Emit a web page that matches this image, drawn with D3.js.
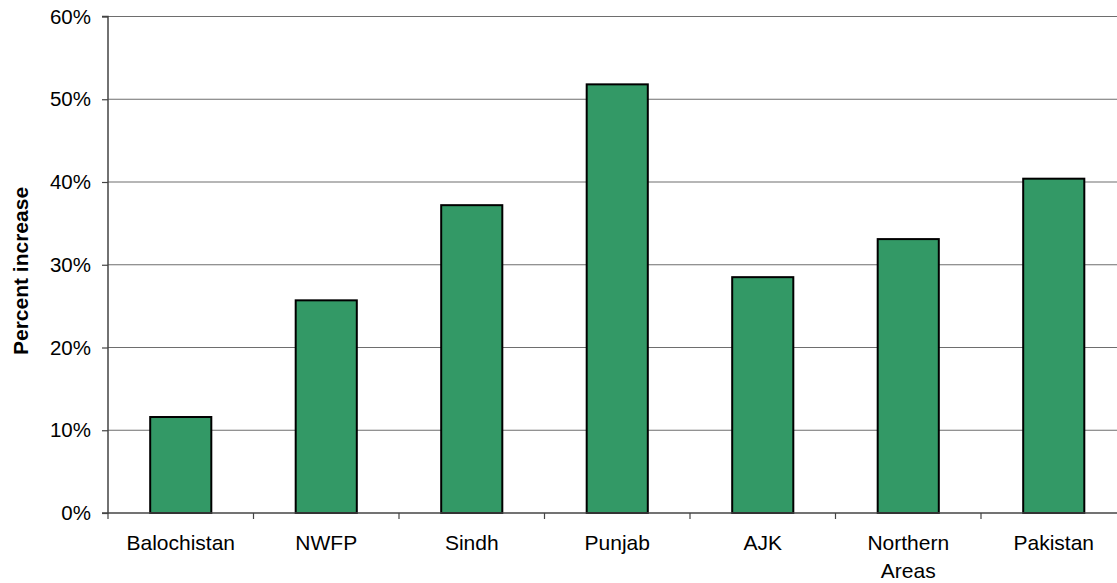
<!DOCTYPE html>
<html><head><meta charset="utf-8">
<script src="https://cdn.jsdelivr.net/npm/d3@7"></script>
<style>body{margin:0;background:#fff}svg{display:block}text{font-family:"Liberation Sans",Arial,sans-serif;fill:#000}</style>
</head><body><svg id="c" width="1117" height="583"></svg>
<script>
const categories = ["Balochistan","NWFP","Sindh","Punjab","AJK","Northern Areas","Pakistan"];
const values = [11.6, 25.7, 37.2, 51.8, 28.5, 33.1, 40.4];
const yTicks = [0,10,20,30,40,50,60];

(function(){
const svg = d3.select("#c");
const pL = 108, pR = 1126.5, pT = 16.5, pB = 513;
const x = d3.scaleBand().domain(categories).range([pL, pR]).padding(0);
const y = d3.scaleLinear().domain([0,60]).range([pB, pT]);

// gridlines
svg.append("g").selectAll("line").data(yTicks.filter(d=>d>0)).join("line")
  .attr("x1", pL).attr("x2", pR).attr("y1", d=>y(d)).attr("y2", d=>y(d))
  .attr("stroke", "#6e6e6e").attr("stroke-width", 1.2);

// bars
const bw = x.bandwidth()*0.42;
svg.append("g").selectAll("rect").data(categories).join("rect")
  .attr("x", d=>x(d)+x.bandwidth()/2-bw/2)
  .attr("y", (d,i)=>y(values[i]))
  .attr("width", bw)
  .attr("height", (d,i)=>pB-y(values[i]))
  .attr("fill", "#339966").attr("stroke", "#000").attr("stroke-width", 2);

// y axis
const ya = svg.append("g").attr("transform", `translate(${pL},0)`)
  .call(d3.axisLeft(y).tickValues(yTicks).tickFormat(d=>d+"%").tickSize(6).tickPadding(11));
ya.select(".domain").attr("stroke", "#444").attr("stroke-width", 1.5).attr("d", `M-6,${pT}H0V${pB}H-6`);
ya.selectAll(".tick line").attr("stroke", "#444").attr("stroke-width", 1.2);
ya.selectAll("text").attr("font-size", 20.5).attr("font-family", '"Liberation Sans",Arial,sans-serif').attr("fill","#000");

// x axis
const xa = svg.append("g").attr("transform", `translate(0,${pB})`);
xa.append("line").attr("x1", pL).attr("x2", pR).attr("y1", 0).attr("y2", 0)
  .attr("stroke", "#444").attr("stroke-width", 1.5);
const bounds = d3.range(categories.length+1).map(i => pL + i*x.step());
xa.selectAll(".xt").data(bounds).join("line").attr("class","xt")
  .attr("x1", d=>d).attr("x2", d=>d).attr("y1", 0).attr("y2", 6)
  .attr("stroke", "#444").attr("stroke-width", 1.2);
const lbl = xa.selectAll(".xl").data(categories).join("text").attr("class","xl")
  .attr("x", d=>x(d)+x.bandwidth()/2).attr("y", 37)
  .attr("text-anchor","middle").attr("font-size", 21);
lbl.each(function(d){
  const words = d === "Northern Areas" ? ["Northern","Areas"] : [d];
  const t = d3.select(this);
  words.forEach((w,i)=>t.append("tspan").attr("x", x(d)+x.bandwidth()/2).attr("dy", i===0?0:28).text(w));
});

// y label
svg.append("text").attr("transform", "translate(28,271) rotate(-90)")
  .attr("text-anchor","middle").attr("font-size", 21).attr("font-weight","bold")
  .text("Percent increase");
})();
</script></body></html>
